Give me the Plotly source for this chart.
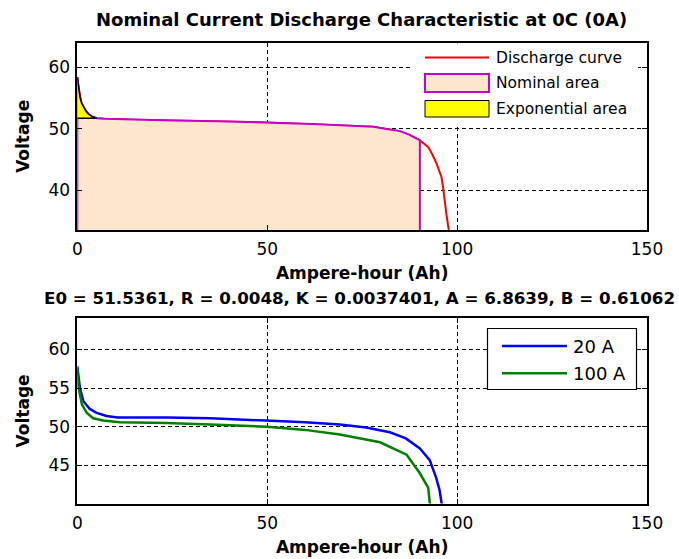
import plotly.graph_objects as go

W, H = 679, 559

# ---------------- data ----------------
# Top: nominal current discharge characteristic
discharge_q = [0, 0.3, 0.7, 1.1, 1.6, 2.2, 2.9, 3.8, 5.1, 7, 15, 25, 36.7, 45, 55, 62,
               67.4, 72, 77.9, 81, 84.9, 87.5, 90.2, 92.4, 93.5, 94.6, 95.3, 95.9,
               96.3, 96.7, 97.2, 97.8, 98.2]
discharge_v = [58.4, 56.8, 55.1, 54.2, 53.5, 52.9, 52.4, 52.0, 51.7, 51.6, 51.45, 51.35,
               51.2, 51.1, 50.9, 50.75, 50.6, 50.5, 50.3, 50.0, 49.6, 49.0, 48.1, 47.0,
               45.8, 44.3, 43.2, 42.1, 40.5, 38.3, 36.0, 33.5, 31.5]
q_nominal = 90.2          # end of nominal area (Ah)
v_base = 0                # nominal area extends down to 0 V
q_exp = 5.1               # end of exponential area (Ah)
v_exp = 51.7              # voltage at end of exponential area

# Bottom: discharge curves at two currents
q_20a = [0, 0.7, 1.6, 3.3, 5.1, 7.7, 10.6, 23.5, 35, 50, 60, 69.1, 76, 82.3, 86.5,
         90.2, 92.8, 94.5, 95.4, 95.9, 96.2]
v_20a = [57.8, 55.0, 53.3, 52.3, 51.8, 51.4, 51.2, 51.2, 51.1, 50.8, 50.6, 50.3, 49.9,
         49.3, 48.5, 47.2, 45.7, 43.4, 41.8, 40.2, 39.0]
q_100a = [0, 0.3, 1.2, 2.5, 4.2, 6.8, 11.2, 23.5, 35, 50, 60, 69.1, 79.7, 86.7, 90.2,
          92.4, 92.8, 93.1]
v_100a = [57.4, 55.2, 52.9, 51.8, 51.1, 50.8, 50.6, 50.5, 50.3, 50.0, 49.6, 49.0, 48.0,
          46.4, 44.0, 42.1, 40.2, 39.0]

x_ticks = [0, 50, 100, 150]
y_ticks_top = [40, 50, 60]
y_ticks_bottom = [45, 50, 55, 60]

title_top = "Nominal Current Discharge Characteristic at 0C (0A)"
title_bottom = "E0 = 51.5361, R = 0.0048, K = 0.0037401, A = 6.8639, B = 0.61062"
x_title = "Ampere-hour (Ah)"
y_title = "Voltage"
legend_top = ["Discharge curve", "Nominal area", "Exponential area"]
legend_bottom = ["20 A", "100 A"]

# ---------------- derived shapes from data ----------------
nom_q = [0] + [q for q in discharge_q if q <= q_nominal] + [q_nominal]
nom_v = [v_base] + [v for q, v in zip(discharge_q, discharge_v) if q <= q_nominal] + [v_base]
exp_q = [q for q in discharge_q if q <= q_exp] + [0]
exp_v = [v for q, v in zip(discharge_q, discharge_v) if q <= q_exp] + [v_exp]

# plot-area geometry (pixels)
ML, MR, MT, MB = 77, 32, 42, 54
PW, PH = W - ML - MR, H - MT - MB


def px(x):
    return (x - ML) / PW


def py(y):
    return 1 - (y - MT) / PH


def clamp(v):
    return min(1.0, max(0.0, v))


RED = "#ff0000"
MAG = "#c800c8"
BISQUE = "#fde6cc"
YEL = "#ffff00"
BLUE = "#0000ff"
GREEN = "#008000"
FONT = "DejaVu Sans"

fig = go.Figure()
fig.add_trace(go.Scatter(x=discharge_q, y=discharge_v, mode="lines",
                         line=dict(color=RED, width=2), xaxis="x", yaxis="y",
                         showlegend=False))
fig.add_trace(go.Scatter(x=nom_q, y=nom_v, mode="lines", fill="toself", fillcolor=BISQUE,
                         line=dict(color=MAG, width=2), xaxis="x", yaxis="y",
                         showlegend=False))
fig.add_trace(go.Scatter(x=exp_q, y=exp_v, mode="lines", fill="toself", fillcolor=YEL,
                         line=dict(color="black", width=1.5), xaxis="x", yaxis="y",
                         showlegend=False))
fig.add_trace(go.Scatter(x=q_20a, y=v_20a, mode="lines", line=dict(color=BLUE, width=2.5),
                         xaxis="x2", yaxis="y2", showlegend=False))
fig.add_trace(go.Scatter(x=q_100a, y=v_100a, mode="lines", line=dict(color=GREEN, width=2.5),
                         xaxis="x2", yaxis="y2", showlegend=False))

xdom = [clamp(px(77.3)), clamp(px(647))]
top_dom = [clamp(py(230)), clamp(py(42.7))]
bot_dom = [clamp(py(503.5)), clamp(py(318.3))]

common = dict(showline=True, linecolor="black", linewidth=1.5, mirror="ticks",
              ticks="inside", ticklen=5, tickcolor="black", tickwidth=1,
              showgrid=True, gridcolor="black", gridwidth=1, griddash="4px,3px",
              zeroline=False, automargin=False,
              tickfont=dict(family=FONT, size=17, color="black"))
xt_font = dict(family=FONT, size=17, color="black", weight="bold")
yt_font = dict(family=FONT, size=17, color="black", weight="bold")

fig.update_layout(
    width=W, height=H, margin=dict(l=ML, r=MR, t=MT, b=MB, autoexpand=False),
    paper_bgcolor="white", plot_bgcolor="white", showlegend=False,
    xaxis=dict(domain=xdom, range=[0, 150], tickvals=x_ticks, anchor="y", ticklabelstandoff=3,
               title=dict(text=x_title, font=xt_font, standoff=9), **common),
    yaxis=dict(domain=top_dom, range=[33.5, 64], tickvals=y_ticks_top, anchor="x", ticklabelstandoff=2,
               title=dict(text=y_title, font=yt_font, standoff=15), **common),
    xaxis2=dict(domain=xdom, range=[0, 150], tickvals=x_ticks, anchor="y2", ticklabelstandoff=3,
                title=dict(text=x_title, font=xt_font, standoff=9), **common),
    yaxis2=dict(domain=bot_dom, range=[40.1, 64], tickvals=y_ticks_bottom, anchor="x2", ticklabelstandoff=2,
                title=dict(text=y_title, font=yt_font, standoff=15), **common),
)

annotations = [
    dict(text=title_top, x=px(361), y=py(19), xref="paper", yref="paper",
         showarrow=False, xanchor="center", yanchor="middle",
         font=dict(family=FONT, size=18, color="black", weight="bold")),
    dict(text=title_bottom, x=px(359), y=py(298), xref="paper", yref="paper",
         showarrow=False, xanchor="center", yanchor="middle",
         font=dict(family=FONT, size=16.7, color="black", weight="bold")),
]

shapes = []
# top legend (manual)
shapes.append(dict(type="rect", xref="paper", yref="paper", x0=px(410), x1=px(638),
                   y0=py(127), y1=py(43.5), fillcolor="white", line=dict(width=0), layer="above"))
shapes.append(dict(type="line", xref="paper", yref="paper", x0=px(425), x1=px(489),
                   y0=py(57.5), y1=py(57.5), line=dict(color=RED, width=2), layer="above"))
shapes.append(dict(type="rect", xref="paper", yref="paper", x0=px(425), x1=px(489),
                   y0=py(92), y1=py(74), fillcolor=BISQUE, line=dict(color=MAG, width=2), layer="above"))
shapes.append(dict(type="rect", xref="paper", yref="paper", x0=px(425), x1=px(489),
                   y0=py(117), y1=py(100.5), fillcolor=YEL, line=dict(color="black", width=1), layer="above"))
for lbl, yy in zip(legend_top, [58, 83, 108.5]):
    annotations.append(dict(text=lbl, x=px(494), y=py(yy), xref="paper", yref="paper",
                            showarrow=False, xanchor="left", yanchor="middle",
                            font=dict(family=FONT, size=15.5, color="black")))

# bottom legend (manual)
shapes.append(dict(type="rect", xref="paper", yref="paper", x0=px(487.5), x1=px(636.5),
                   y0=py(389.5), y1=py(328.5), fillcolor="white", line=dict(color="black", width=1.2),
                   layer="above"))
for col, yy in zip([BLUE, GREEN], [346, 373.3]):
    shapes.append(dict(type="line", xref="paper", yref="paper", x0=px(502), x1=px(567),
                       y0=py(yy), y1=py(yy), line=dict(color=col, width=2.5), layer="above"))
for lbl, yy in zip(legend_bottom, [346, 373.3]):
    annotations.append(dict(text=lbl, x=px(571), y=py(yy), xref="paper", yref="paper",
                            showarrow=False, xanchor="left", yanchor="middle",
                            font=dict(family=FONT, size=18, color="black")))

fig.update_layout(annotations=annotations, shapes=shapes)
fig.write_html("out.html", config={"displayModeBar": False},
               post_script="document.body.style.margin='0';document.body.style.padding='0';")
